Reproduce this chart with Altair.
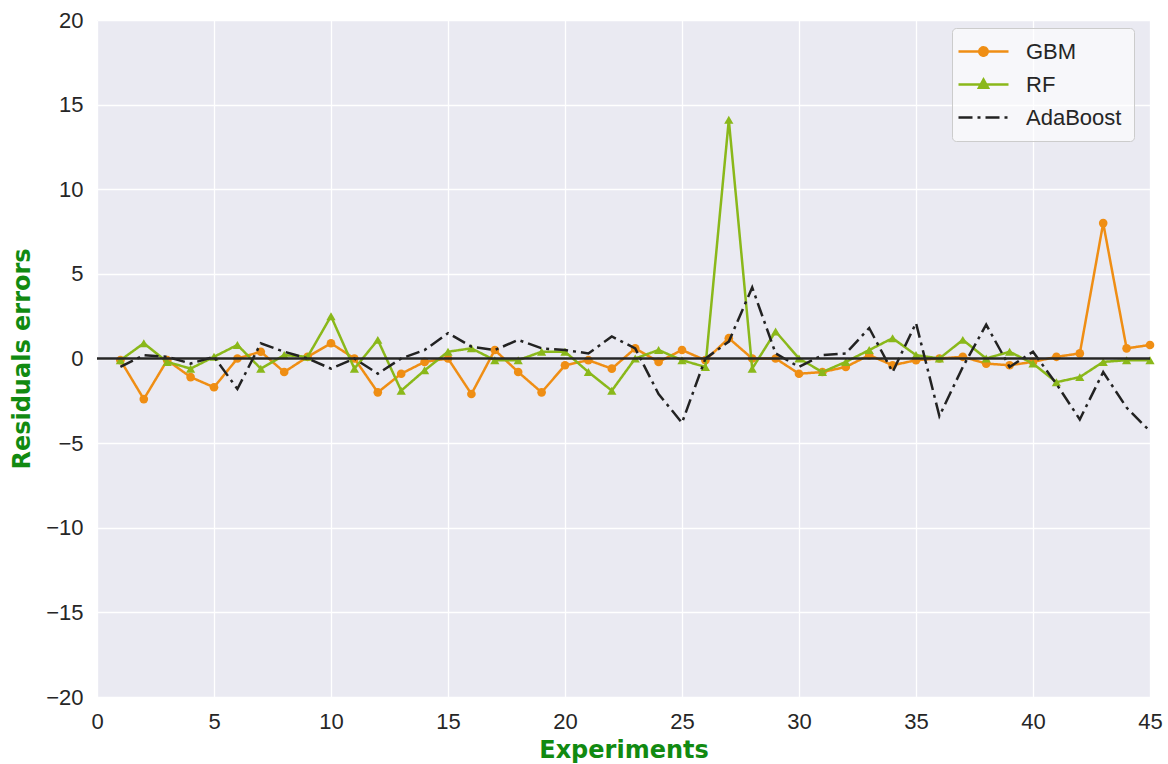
import altair as alt
import pandas as pd

experiments = list(range(1, 46))

gbm = [-0.1, -2.4, -0.1, -1.1, -1.7, 0.0, 0.4, -0.8, 0.1, 0.9,
       0.0, -2.0, -0.9, -0.2, 0.0, -2.1, 0.5, -0.8, -2.0, -0.4,
       -0.1, -0.6, 0.6, -0.2, 0.5, -0.1, 1.2, 0.0, 0.0, -0.9,
       -0.8, -0.5, 0.2, -0.4, -0.1, 0.0, 0.1, -0.3, -0.4, -0.2,
       0.1, 0.3, 8.0, 0.6, 0.8]

rf = [-0.1, 0.9, -0.2, -0.6, 0.1, 0.8, -0.6, 0.2, 0.1, 2.5,
      -0.6, 1.1, -1.9, -0.7, 0.4, 0.6, -0.1, -0.1, 0.4, 0.4,
      -0.8, -1.9, 0.0, 0.5, -0.1, -0.5, 14.1, -0.6, 1.6, 0.0,
      -0.8, -0.2, 0.5, 1.2, 0.2, 0.0, 1.1, 0.0, 0.4, -0.3,
      -1.4, -1.1, -0.2, -0.1, -0.1]

adaboost = [-0.5, 0.2, 0.1, -0.3, 0.1, -1.8, 0.9, 0.4, 0.0, -0.6,
            0.0, -0.9, 0.0, 0.5, 1.5, 0.7, 0.5, 1.1, 0.6, 0.5,
            0.3, 1.3, 0.6, -2.1, -3.8, 0.0, 1.0, 4.2, 0.3, -0.5,
            0.2, 0.3, 1.8, -0.8, 2.1, -3.4, -0.5, 2.0, -0.5, 0.4,
            -1.5, -3.6, -0.8, -2.9, -4.3]

series_names = ["GBM", "RF", "AdaBoost"]
series_colors = ["#EF8E14", "#8AB81A", "#222222"]
series_dashes = [[1, 0], [1, 0], [14, 5, 3, 5]]
legend_paths = [
    "M-2.5,0H2.5M0.42,0A0.42,0.42,0,1,1,-0.42,0A0.42,0.42,0,1,1,0.42,0Z",
    "M-2.5,0H2.5M0,-0.5L0.45,0.32L-0.45,0.32Z",
    "M-2.5,0H2.5",
]
x_ticks = [0, 5, 10, 15, 20, 25, 30, 35, 40, 45]
y_ticks = [-20, -15, -10, -5, 0, 5, 10, 15, 20]

rows = []
for name, vals in zip(series_names, [gbm, rf, adaboost]):
    for e, v in zip(experiments, vals):
        rows.append({"Experiment": e, "Residual": v, "Model": name})
df = pd.DataFrame(rows)

color_scale = alt.Scale(domain=series_names, range=series_colors)
dash_scale = alt.Scale(domain=series_names, range=series_dashes)
shape_scale = alt.Scale(domain=series_names, range=legend_paths)

x_enc = alt.X("Experiment:Q", scale=alt.Scale(domain=[0, 45], nice=False),
              axis=alt.Axis(values=x_ticks, title="Experiments"))
y_enc = alt.Y("Residual:Q", scale=alt.Scale(domain=[-20, 20], nice=False),
              axis=alt.Axis(values=y_ticks, title="Residuals errors"))

legend = alt.Legend(
    title=None,
    orient="none",
    legendX=855,
    legendY=8,
    symbolSize=400,
    symbolStrokeWidth=2.5,
    symbolOffset=8,
    labelFontSize=22,
    labelFont="Liberation Sans",
    labelColor="#262626",
    fillColor="rgba(255,255,255,0.6)",
    strokeColor="#CCCCCC",
    cornerRadius=4,
    padding=12,
    rowPadding=10,
    labelOffset=31,
)

base = alt.Chart(df)
layers = []
for name in series_names:
    sub = base.transform_filter(alt.datum.Model == name)
    layers.append(sub.mark_line(strokeWidth=2.5, clip=True).encode(
        x=x_enc, y=y_enc,
        color=alt.Color("Model:N", scale=color_scale, legend=legend),
        strokeDash=alt.StrokeDash("Model:N", scale=dash_scale, legend=legend),
    ))
    if name == "GBM":
        layers.append(sub.mark_point(shape="circle", filled=True, size=75, opacity=1).encode(
            x=x_enc, y=y_enc,
            color=alt.Color("Model:N", scale=color_scale, legend=legend)))
    elif name == "RF":
        layers.append(sub.mark_point(shape="triangle-up", filled=True, size=85, opacity=1).encode(
            x=x_enc, y=y_enc,
            color=alt.Color("Model:N", scale=color_scale, legend=legend)))

# legend-only layer (no data rows pass the filter)
layers.append(base.transform_filter(alt.datum.Experiment < 0).mark_point(filled=True).encode(
    x=x_enc, y=y_enc,
    color=alt.Color("Model:N", scale=color_scale, legend=legend),
    shape=alt.Shape("Model:N", scale=shape_scale, legend=legend),
    strokeDash=alt.StrokeDash("Model:N", scale=dash_scale, legend=legend),
))

zero = alt.Chart(pd.DataFrame({"y": [0]})).mark_rule(color="#262626", strokeWidth=2.5).encode(
    y=alt.Y("y:Q", scale=alt.Scale(domain=[-20, 20], nice=False)))
layers.append(zero)

chart = alt.layer(*layers).properties(
    width=1053, height=677,
    autosize=alt.AutoSizeParams(type="none"),
    padding={"left": 97, "top": 20, "right": 18, "bottom": 67},
    background="white",
).configure_view(
    fill="#EAEAF2", stroke=None
).configure_axis(
    grid=True, gridColor="white", gridWidth=1.3,
    domain=False, ticks=False,
    labelFont="Liberation Sans", labelFontSize=22, labelColor="#262626",
    titleFont="DejaVu Sans", titleFontSize=24, titleFontWeight="bold",
    titleColor="#118A11",
).configure_axisX(
    labelPadding=14, titlePadding=6, labelFlush=False
).configure_axisY(
    labelPadding=14, titlePadding=11, labelFlush=False
)

chart.save("out.html", embed_options={"renderer": "svg", "actions": False})
